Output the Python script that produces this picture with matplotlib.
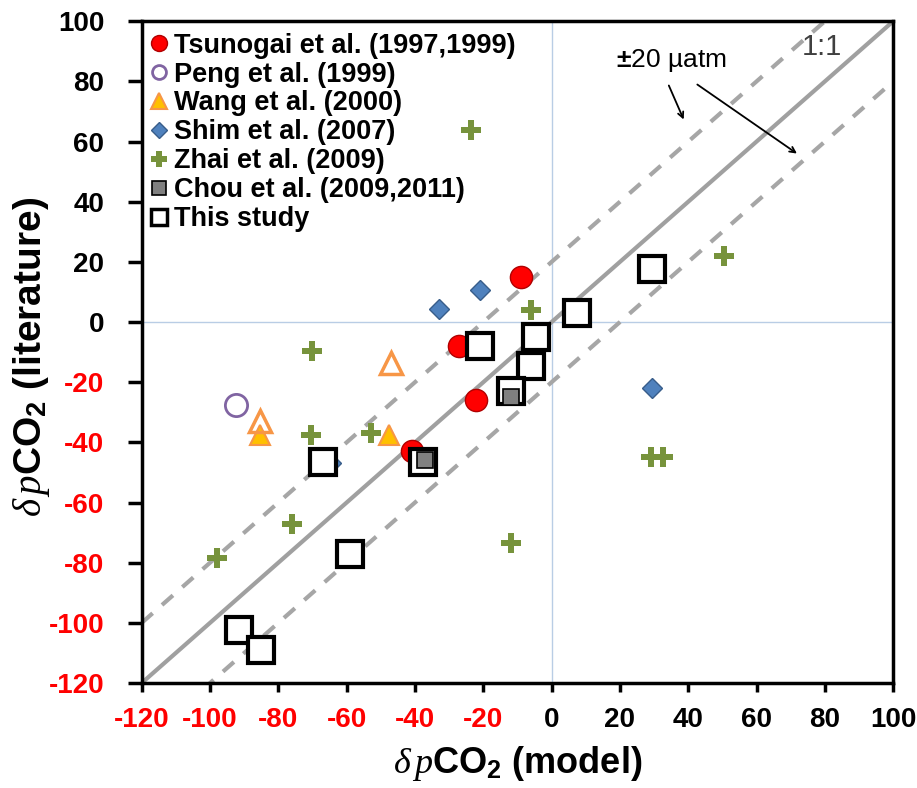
#!/usr/bin/env python3

import numpy as np
from matplotlib import pyplot as plt
from matplotlib.lines import Line2D

### data
tsunogai_x = [-41, -27, -22, -9]
tsunogai_y = [-43, -8, -26, 15]

peng_x = [-92.5]
peng_y = [-27.5]

wang_x = [-85.5, -47.5]
wang_y = [-37.5, -37.5]
wang_open_x = [-85.5, -47]
wang_open_y = [-33, -13.5]

shim_x = [-33, -21, -64.5, 29.5]
shim_y = [4.5, 10.5, -47, -22]

zhai_x = [-23.5, -6, -70, -70.5, -53, -76, -98, -12, 50.5, 29, 32.5]
zhai_y = [64, 4, -9.5, -37.5, -37, -67, -78.5, -73.5, 22, -45, -45]

chou_x = [-12, -37]
chou_y = [-25, -46]

this_x = [-21, -4.5, -6, -12, -37.5, -67, -59, -91.5, -85, 7.5, 29.5]
this_y = [-8, -5, -14.5, -23, -46.5, -46.5, -77, -102.5, -109, 3, 17.5]

legend_labels = ['Tsunogai et al. (1997,1999)', 'Peng et al. (1999)', 'Wang et al. (2000)',
                 'Shim et al. (2007)', 'Zhai et al. (2009)', 'Chou et al. (2009,2011)',
                 'This study']

band = 20
lims = [-120, 100]
ticks = list(range(-120, 101, 20))

plt.rcParams['font.family'] = ['Liberation Sans', 'DejaVu Sans']
plt.rcParams['mathtext.fontset'] = 'custom'
plt.rcParams['mathtext.rm'] = 'Liberation Sans:bold'
plt.rcParams['mathtext.it'] = 'Liberation Serif:italic'

### marker styles (plot, legend)
STY = {
    'tsu':  dict(marker='o', mfc='#ff0000', mec='#b00000', mew=1),
    'peng': dict(marker='o', mfc='white', mec='#8064a2', mew=2),
    'wang': dict(marker='^', mfc='#ffc000', mec='#f79646', mew=1.5),
    'shim': dict(marker='D', mfc='#4f81bd', mec='#385d8a', mew=1),
    'zhai': dict(marker='P', mfc='#77933c', mec='#77933c', mew=0),
    'chou': dict(marker='s', mfc='#808080', mec='black', mew=1.2),
    'this': dict(marker='s', mfc='white', mec='black', mew=3),
}


def main():
    fig = plt.figure(figsize=(9.17, 7.88), dpi=100)
    ax = fig.add_axes([0.1545, 0.1332, 0.8195, 0.8398])

    grid = np.array(lims)
    ax.axhline(0, color='#b9cde5', linewidth=1, zorder=0)
    ax.axvline(0, color='#b9cde5', linewidth=1, zorder=0)
    ax.plot(grid, grid, color='#a0a0a0', linewidth=3, zorder=1)
    ax.plot(grid, grid + band, color='#a6a6a6', linewidth=3, linestyle=(0, (3.5, 3)), zorder=1)
    ax.plot(grid, grid - band, color='#a6a6a6', linewidth=3, linestyle=(0, (3.5, 3)), zorder=1)

    ax.plot(tsunogai_x, tsunogai_y, ls='none', ms=16, zorder=3, **STY['tsu'])
    ax.plot(peng_x, peng_y, ls='none', ms=16, zorder=3, **STY['peng'])
    ax.plot(wang_x, wang_y, ls='none', ms=14, zorder=3, **STY['wang'])
    ax.plot(wang_open_x, wang_open_y, '^', ms=16, mfc='none', mec='#f79646', mew=2.5, zorder=3)
    ax.plot(shim_x, shim_y, ls='none', ms=10, zorder=3, **STY['shim'])
    ax.plot(zhai_x, zhai_y, ls='none', ms=14, zorder=3, **STY['zhai'])
    ax.plot(this_x, this_y, ls='none', ms=19, zorder=4, **STY['this'])
    ax.plot(chou_x, chou_y, ls='none', ms=11, zorder=5, **STY['chou'])

    leg_sizes = {'tsu': 11.5, 'peng': 10, 'wang': 11, 'shim': 8.5, 'zhai': 11, 'chou': 10.5, 'this': 11}
    handles = []
    for key in ['tsu', 'peng', 'wang', 'shim', 'zhai', 'chou', 'this']:
        sty = dict(STY[key])
        if key == 'this':
            sty['mew'] = 2.5
        handles.append(Line2D([], [], ls='none', ms=leg_sizes[key], **sty))
    ax.legend(handles, legend_labels, loc='upper left', bbox_to_anchor=(0.01, 0.983),
              frameon=False, prop={'weight': 'bold', 'size': 19.5},
              handlelength=0.7, handletextpad=0.2, borderaxespad=0,
              labelspacing=0.11, borderpad=0)

    ax.text(35, 87, r'$\pm$20 µatm', fontsize=19, ha='center', va='center')
    ax.text(79, 91.5, '1:1', fontsize=21, ha='center', va='center', color='#404040')
    arrow = dict(arrowstyle='->', color='black', lw=1.3)
    ax.annotate('', xy=(39, 66.5), xytext=(34, 79.5), arrowprops=arrow)
    ax.annotate('', xy=(72.5, 55.5), xytext=(42, 79.5), arrowprops=arrow)

    ax.set_xlim(lims)
    ax.set_ylim(lims)
    ax.set_xticks(ticks)
    ax.set_yticks(ticks)
    ax.set_xticklabels([str(t) for t in ticks], fontsize=20, fontweight='bold')
    ax.set_yticklabels([str(t) for t in ticks], fontsize=20, fontweight='bold')
    for lab, t in zip(ax.get_xticklabels(), ticks):
        lab.set_color('#ff0000' if t < 0 else 'black')
    for lab, t in zip(ax.get_yticklabels(), ticks):
        lab.set_color('#ff0000' if t < 0 else 'black')
    ax.tick_params(axis='x', direction='out', length=6.5, width=2.5, pad=11)
    ax.tick_params(axis='y', direction='out', length=10, width=2.5, pad=17)
    for sp in ax.spines.values():
        sp.set_linewidth(2.5)

    ax.set_xlabel(r'$\delta\,p$CO$_2$ (model)', fontsize=26, fontweight='bold')
    ax.set_ylabel(r'$\delta\,p$CO$_2$ (literature)', fontsize=28, fontweight='bold')
    ax.xaxis.set_label_coords(0.5, -0.092)
    ax.yaxis.set_label_coords(-0.119, 0.492)

    fig.savefig('out.png', dpi=100)
    return 0


if __name__ == '__main__':
    main()
